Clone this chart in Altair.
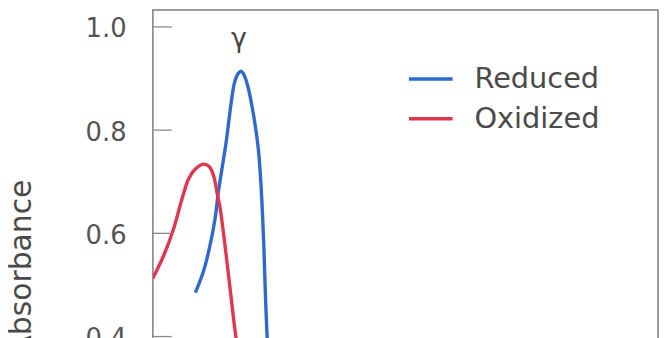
import altair as alt
import pandas as pd

# ---- data ----
series_names = ["Reduced", "Oxidized"]
series_colors = ["#2f68cf", "#e23650"]

oxidized_nm = [380.0, 384.8, 389.1, 392.7, 395.6, 398.6, 402.0, 404.6, 406.4,
               408.2, 409.3, 411.4, 413.6, 416.0, 418.5, 421.0]
oxidized_abs = [0.513, 0.558, 0.610, 0.667, 0.706, 0.725, 0.734, 0.729, 0.712,
                0.673, 0.648, 0.577, 0.494, 0.404, 0.330, 0.260]

reduced_nm = [398.5, 402.0, 404.9, 407.1, 408.5, 410.3, 412.1, 414.0, 415.6,
              417.2, 418.4, 419.8, 421.4, 422.8, 424.4, 426.0, 427.0, 427.7,
              428.3, 429.0, 429.7, 430.5]
reduced_abs = [0.485, 0.526, 0.577, 0.629, 0.680, 0.731, 0.783, 0.850, 0.893,
               0.910, 0.914, 0.906, 0.884, 0.855, 0.814, 0.760, 0.700, 0.640,
               0.577, 0.481, 0.404, 0.330]

y_ticks = [0.0, 0.2, 0.4, 0.6, 0.8, 1.0]
peak_labels = ["γ"]
peak_label_nm = [417.5]
peak_label_abs = [0.9615]

# ---- tables ----
df = pd.concat([
    pd.DataFrame({"nm": reduced_nm, "abs": reduced_abs, "series": "Reduced"}),
    pd.DataFrame({"nm": oxidized_nm, "abs": oxidized_abs, "series": "Oxidized"}),
])
ticks_df = pd.DataFrame({"t": y_ticks})
ann_df = pd.DataFrame({"label": peak_labels, "nm": peak_label_nm, "abs": peak_label_abs})
leg_df = pd.DataFrame({"series": series_names})

FONT = "DejaVu Sans"
x_scale = alt.Scale(domain=[380, 600], nice=False, zero=False)
y_scale = alt.Scale(domain=[0, 1.0327], nice=False, zero=False)
color_scale = alt.Scale(domain=series_names, range=series_colors)

lines = alt.Chart(df).mark_line(strokeWidth=3.4, interpolate="catmull-rom", clip=True).encode(
    x=alt.X("nm:Q", scale=x_scale, axis=None),
    y=alt.Y("abs:Q", scale=y_scale, axis=alt.Axis(
        values=y_ticks, format=".1f", ticks=False, tickSize=0, domain=False, grid=False,
        labelPadding=27, labelFontSize=26, labelFont=FONT, labelColor="#555555", labelOffset=2,
        title="Absorbance", titleFontSize=30, titleFont=FONT, titleColor="#4a4a4a",
        titleFontWeight="normal", titleAngle=-90, titleX=-123, titleY=259,
        titleBaseline="alphabetic", titleAlign="center")),
    color=alt.Color("series:N", scale=color_scale, legend=None),
    detail="series:N",
)

ticks = alt.Chart(ticks_df).mark_rule(color="#8a8a8a", strokeWidth=1.3).encode(
    y=alt.Y("t:Q", scale=y_scale, axis=None),
    x=alt.value(0),
    x2=alt.value(19),
)

ann = alt.Chart(ann_df).mark_text(font=FONT, fontSize=27, color="#444444",
                                  align="center", baseline="alphabetic").encode(
    x=alt.X("nm:Q", scale=x_scale, axis=None),
    y=alt.Y("abs:Q", scale=y_scale, axis=None),
    text="label:N",
)

leg_y = alt.Scale(type="point", domain=series_names, range=[69.5, 109.5], padding=0)
leg_lines = alt.Chart(leg_df).mark_rule(strokeWidth=3.4).encode(
    y=alt.Y("series:N", scale=leg_y, axis=None),
    x=alt.value(258),
    x2=alt.value(302),
    color=alt.Color("series:N", scale=color_scale, legend=None),
)
leg_text = alt.Chart(leg_df).mark_text(font=FONT, fontSize=29, color="#4a4a4a",
                                       align="left", baseline="middle").encode(
    y=alt.Y("series:N", scale=leg_y, axis=None),
    x=alt.value(324),
    text="series:N",
)

chart = alt.layer(lines, ticks, ann, leg_lines, leg_text).resolve_scale(
    y="independent"
).properties(
    width=509, height=537,
    autosize=alt.AutoSizeParams(type="none"),
    padding={"left": 146, "top": 0, "right": 4, "bottom": 0},
    background="white",
).configure_view(stroke="#7d7d7d", strokeWidth=1.5)

chart.save("out.html", embed_options={"renderer": "svg", "actions": False})
